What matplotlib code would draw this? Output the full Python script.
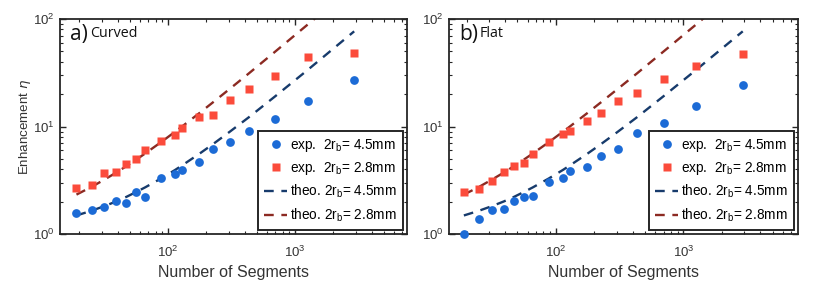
import matplotlib
matplotlib.use("Agg")
import matplotlib.pyplot as plt
from matplotlib.ticker import LogLocator, NullFormatter

plt.rcParams['font.family'] = ['Liberation Sans', 'DejaVu Sans']
plt.rcParams['mathtext.default'] = 'regular'
plt.rcParams['lines.scale_dashes'] = False

# Data
segments = [19, 25, 31.5, 39, 47, 56, 66, 88, 114, 128, 175, 227, 307, 432, 700, 1259, 2920]

curved_exp_45 = [1.58, 1.67, 1.80, 2.04, 1.95, 2.46, 2.22, 3.32, 3.61, 3.94, 4.67, 6.13, 7.18, 9.14, 11.8, 17.4, 27.1]
curved_exp_28 = [2.66, 2.86, 3.67, 3.80, 4.48, 4.98, 6.05, 7.33, 8.28, 9.68, 12.3, 12.9, 17.5, 22.3, 29.3, 44.6, 48.6]

flat_exp_45 = [1.00, 1.37, 1.67, 1.72, 2.04, 2.19, 2.27, 3.07, 3.30, 3.88, 4.23, 5.28, 6.18, 8.76, 10.9, 15.6, 24.3]
flat_exp_28 = [2.44, 2.64, 3.11, 3.75, 4.32, 4.57, 5.55, 7.22, 8.45, 9.02, 11.2, 13.5, 17.4, 20.4, 27.9, 36.8, 47.2]

theo_45 = [1.49, 1.65, 1.82, 2.01, 2.22, 2.46, 2.72, 3.29, 3.96, 4.33, 5.55, 6.90, 8.98, 12.2, 19.2, 33.7, 76.9]
theo_28 = [2.33, 2.75, 3.21, 3.73, 4.29, 4.92, 5.62, 7.16, 8.98, 9.96, 13.25, 16.9, 22.5, 31.2, 50.0, 89.1, 205.0]

panel_letters = ['a)', 'b)']
panel_names = ['Curved', 'Flat']
labels = ['exp.  2r$_b$= 4.5mm', 'exp.  2r$_b$= 2.8mm',
          'theo. 2r$_b$= 4.5mm', 'theo. 2r$_b$= 2.8mm']

c_blue = '#1c6bd6'
c_red = '#fb4b3b'
c_tblue = '#173b6c'
c_tred = '#8c2a22'
c_txt = '#333333'

fig = plt.figure(figsize=(8.3, 2.89), dpi=100)
ax_pos = [[0.0723, 0.190, 0.418, 0.744], [0.5413, 0.190, 0.420, 0.744]]
xlims = [(14.1, 7600), (14.6, 7900)]
exp_data = [(curved_exp_45, curved_exp_28), (flat_exp_45, flat_exp_28)]

for i in range(2):
    ax = fig.add_axes(ax_pos[i])
    ax.set_xscale('log')
    ax.set_yscale('log')
    e45, e28 = exp_data[i]
    ax.plot(segments, e45, 'o', color=c_blue, ms=6.3, mec='none', clip_on=False, zorder=3, label=labels[0])
    ax.plot(segments, e28, 's', color=c_red, ms=5.5, mec='none', clip_on=False, zorder=3, label=labels[1])
    ax.plot(segments, theo_45, color=c_tblue, lw=1.7, dashes=(7, 5.5), zorder=2, label=labels[2])
    ax.plot(segments, theo_28, color=c_tred, lw=1.7, dashes=(7, 5.5), zorder=2, label=labels[3])
    ax.set_xlim(*xlims[i])
    ax.set_ylim(1, 100)
    ax.xaxis.set_minor_locator(LogLocator(base=10, subs=range(2, 10), numticks=20))
    ax.yaxis.set_minor_locator(LogLocator(base=10, subs=range(2, 10), numticks=20))
    ax.xaxis.set_minor_formatter(NullFormatter())
    ax.yaxis.set_minor_formatter(NullFormatter())
    ax.tick_params(which='both', direction='in', top=True, right=True, labelsize=9.5,
                   color='#262626', labelcolor=c_txt)
    ax.tick_params(which='major', length=4, width=1.0)
    ax.tick_params(axis='x', which='major', pad=8)
    ax.tick_params(axis='y', which='major', pad=4)
    ax.tick_params(which='minor', length=2.2, width=0.8)
    for s in ax.spines.values():
        s.set_linewidth(1.3)
        s.set_color('#262626')
    ax.set_xlabel('Number of Segments', fontsize=11.5, color=c_txt, labelpad=3)
    if i == 0:
        ax.set_ylabel('Enhancement $\\it{\\eta}$', fontsize=9.6, color=c_txt, labelpad=0)
    ax.text(0.029, 0.905, panel_letters[i], transform=ax.transAxes, fontsize=15,
            family=['Open Sans', 'DejaVu Sans'], va='baseline', ha='left', color='#111111')
    ax.text(0.088, 0.918, panel_names[i], transform=ax.transAxes, fontsize=10.3,
            family=['Open Sans', 'DejaVu Sans'], va='baseline', ha='left', color='#111111')
    leg = ax.legend(loc='lower right', fontsize=9.8, frameon=True, fancybox=False,
                    edgecolor='#262626', framealpha=1, borderaxespad=0.3,
                    handlelength=1.7, handletextpad=0.2, labelspacing=0.45,
                    borderpad=0.45)
    leg.get_frame().set_linewidth(1.4)

fig.savefig('out.png', dpi=100)
